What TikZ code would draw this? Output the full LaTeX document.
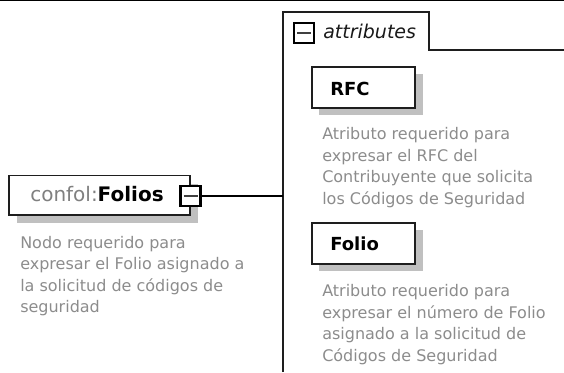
\documentclass[tikz,border=0pt]{standalone}
\usepackage{fontspec}
\setmainfont{DejaVu Sans}
\definecolor{descgray}{RGB}{140,140,140}
\definecolor{prefixgray}{RGB}{128,128,128}
\definecolor{shadowgray}{RGB}{192,192,192}
\definecolor{boxline}{RGB}{30,30,30}
\begin{document}
\begin{tikzpicture}[x=0.75pt,y=-0.75pt,
  elbox/.style={draw=boxline,line width=1.1pt,fill=white,anchor=north west,outer sep=0pt,inner sep=0pt},
  shadowbox/.style={fill=shadowgray,draw=none},
  desc/.style={anchor=north west,inner sep=0pt,align=left,text=descgray,font=\fontsize{12}{16.1}\selectfont},
  boxlabel/.style={anchor=west,inner sep=0pt,font=\fontsize{13.5}{16}\selectfont\bfseries,text=black},
  minusbox/.style={draw=black,line width=1.9pt,fill=white,minimum size=15pt,inner sep=0pt,outer sep=0pt},
  minusdash/.style={draw=black!75,line width=1.1pt},
  groupline/.style={draw=boxline,line width=1.1pt},
  connector/.style={draw=black,line width=1.1pt}]
\useasboundingbox (0,0) rectangle (564,372);

% top rule
\draw[line width=1.1pt] (0,0.75) -- (564,0.75);

% attributes group frame
\draw[groupline] (283,372) -- (283,12) -- (429,12) -- (429,50) -- (564,50);
\node[minusbox] (attminus) at (304,33) {};
\draw[minusdash] ([xshift=-5.25pt]attminus.center) -- ([xshift=5.25pt]attminus.center);
\node[anchor=west,inner sep=0pt,font=\fontsize{14.25}{17}\selectfont\itshape,text=black!90] (attlab) at (323,31) {attributes};

% confol:Folios element
\fill[shadowgray] (17,183.5) rectangle (198,223);
\node[elbox,minimum width=135.75pt,minimum height=29.6pt] (folbox) at (9,175.5) {};
\node[anchor=west,inner sep=0pt,font=\fontsize{15}{18}\selectfont] (follab) at (30,194) {\textcolor{prefixgray}{confol:}\textbf{Folios}};
\node[minusbox] (folminus) at (190.5,196) {};
\draw[minusdash] ([xshift=-5.25pt]folminus.center) -- ([xshift=5.25pt]folminus.center);
\coordinate (join) at (283,196);
\draw[connector] (folminus.east) -- (join);
\node[desc] (foldesc) at (20,236) {Nodo requerido para\\expresar el Folio asignado a\\la solicitud de códigos de\\seguridad};

% RFC attribute
\fill[shadowgray] (319,74) rectangle (423,115);
\node[elbox,minimum width=77.25pt,minimum height=30.75pt] (rfcbox) at (312,67) {};
\node[boxlabel] (rfclab) at (330,89) {RFC};
\node[desc] (rfcdesc) at (322,127.5) {Atributo requerido para\\expresar el RFC del\\Contribuyente que solicita\\los Códigos de Seguridad};

% Folio attribute
\fill[shadowgray] (319,230) rectangle (423,271);
\node[elbox,minimum width=77.25pt,minimum height=30.75pt] (foliobox) at (312,223) {};
\node[boxlabel] (foliolab) at (330,244) {Folio};
\node[desc] (foliodesc) at (322,284.5) {Atributo requerido para\\expresar el número de Folio\\asignado a la solicitud de\\Códigos de Seguridad};
\end{tikzpicture}
\end{document}
